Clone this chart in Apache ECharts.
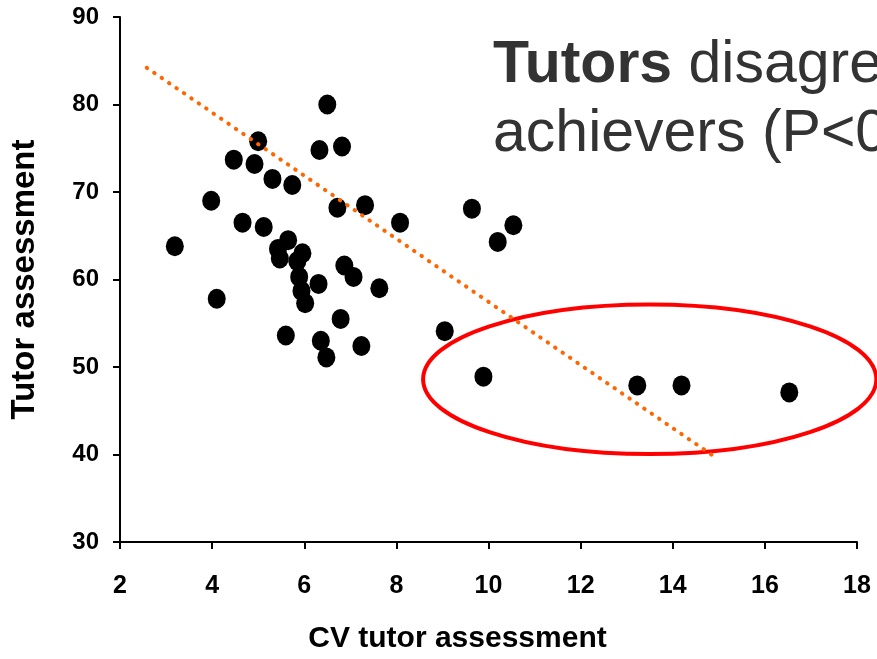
<!DOCTYPE html>
<html>
<head>
<meta charset="utf-8">
<title>Tutor assessment vs CV</title>
<script src="https://cdn.jsdelivr.net/npm/echarts@6/dist/echarts.min.js"></script>
<style>
  html, body { margin: 0; padding: 0; background: #fff; overflow: hidden; }
  #chart { width: 877px; height: 659px; }
</style>
</head>
<body>
<div id="chart"></div>
<script>
// CV of tutor assessment (x) and mean tutor assessment (y), one entry per student
const cvValues = [
  6.50, 5.00, 6.33, 6.82, 4.47, 4.92, 5.31, 5.74, 3.98, 6.72,
  7.32, 8.08, 4.66, 5.12, 3.19, 5.65, 5.43, 5.47, 5.96, 5.85,
  5.89, 6.87, 7.07, 6.31, 7.63, 5.94, 6.02, 4.10, 6.79, 5.60,
  6.36, 7.24, 6.48, 9.64, 10.54, 10.20, 9.05, 9.89, 13.23, 14.19,
  16.53
]
const tutorScores = [
  80.0, 75.8, 74.8, 75.2, 73.7, 73.2, 71.5, 70.8, 69.0, 68.2,
  68.5, 66.5, 66.5, 66.0, 63.8, 64.5, 63.5, 62.4, 63.0, 62.1,
  60.3, 61.6, 60.3, 59.5, 59.0, 58.7, 57.3, 57.8, 55.5, 53.6,
  53.0, 52.4, 51.1, 68.1, 66.2, 64.3, 54.1, 48.9, 47.9, 47.9,
  47.1
]

// dotted trend line ends
const trendX = [2.58, 14.92]
const trendY = [84.2, 39.7]

// highlighted low achievers: centre x, centre y, radius x, radius y (data units)
const highlight = [13.50, 48.6, 4.92, 8.55]

// axis ticks
const xTicks = { min: 2, max: 18, step: 2 }
const yTicks = { min: 30, max: 90, step: 10 }

// headline, cut off at the right edge like the slide
const titleBold = 'Tutors'
const titleRest = 'disagre'
const titleLine2 = 'achievers (P<0'

const chart = echarts.init(document.getElementById('chart'), null, { width: 877, height: 659 })

const points = cvValues.map((x, i) => [x, tutorScores[i]])
const trend = trendX.map((x, i) => [x, trendY[i]])

const font = '"Liberation Sans", Arial, sans-serif'

const option = {
  animation: false,
  backgroundColor: '#fff',
  grid: { left: 119, right: 20, top: 17, bottom: 116, containLabel: false },
  xAxis: {
    type: 'value',
    min: xTicks.min,
    max: xTicks.max,
    interval: xTicks.step,
    name: 'CV tutor assessment',
    nameLocation: 'middle',
    nameGap: 82,
    // title sits a bit left of the plot centre on the slide
    nameTextStyle: { fontFamily: font, fontWeight: 'bold', fontSize: 30, color: '#000', padding: [0, 62, 0, 0] },
    axisLine: { onZero: false, lineStyle: { color: '#000', width: 2 } },
    axisTick: { show: true, inside: false, length: 7, lineStyle: { color: '#000', width: 2 } },
    axisLabel: { margin: 32, fontFamily: font, fontWeight: 'bold', fontSize: 25, color: '#000' },
    splitLine: { show: false }
  },
  yAxis: {
    type: 'value',
    min: yTicks.min,
    max: yTicks.max,
    interval: yTicks.step,
    name: 'Tutor assessment',
    nameLocation: 'middle',
    nameGap: 79,
    nameRotate: 90,
    nameTextStyle: { fontFamily: font, fontWeight: 'bold', fontSize: 33, color: '#000' },
    axisLine: { onZero: false, lineStyle: { color: '#000', width: 2 } },
    axisTick: { show: true, inside: false, length: 7, lineStyle: { color: '#000', width: 2 } },
    axisLabel: { margin: 21, fontFamily: font, fontWeight: 'bold', fontSize: 24, color: '#000' },
    splitLine: { show: false }
  },
  graphic: [
    {
      type: 'text',
      left: 493,
      top: 36,
      silent: true,
      style: {
        text: '{b|' + titleBold + '} ' + titleRest,
        font: '59px ' + font,
        fill: '#333',
        rich: {
          b: { fontFamily: font, fontWeight: 'bold', fontSize: 59, fill: '#333' }
        }
      }
    },
    {
      type: 'text',
      left: 493,
      top: 105,
      silent: true,
      style: {
        text: titleLine2,
        font: '59px ' + font,
        fill: '#333'
      }
    }
  ],
  series: [
    {
      type: 'scatter',
      data: points,
      symbol: 'circle',
      symbolSize: [18, 20],
      itemStyle: { color: '#000', opacity: 1 },
      z: 2
    },
    {
      type: 'custom',
      data: [highlight],
      clip: false,
      silent: true,
      z: 3,
      renderItem: (params, api) => {
        const c = api.coord([api.value(0), api.value(1)])
        const s = api.size([api.value(2), api.value(3)])
        return {
          type: 'ellipse',
          shape: { cx: c[0], cy: c[1], rx: s[0], ry: s[1] },
          style: { fill: 'none', stroke: '#ff0000', lineWidth: 4 }
        }
      }
    },
    {
      type: 'line',
      data: trend,
      symbol: 'none',
      silent: true,
      z: 4,
      lineStyle: { color: '#ff6600', width: 4, type: [0.5, 8.5], cap: 'round' }
    }
  ]
}

chart.setOption(option)
</script>
</body>
</html>
